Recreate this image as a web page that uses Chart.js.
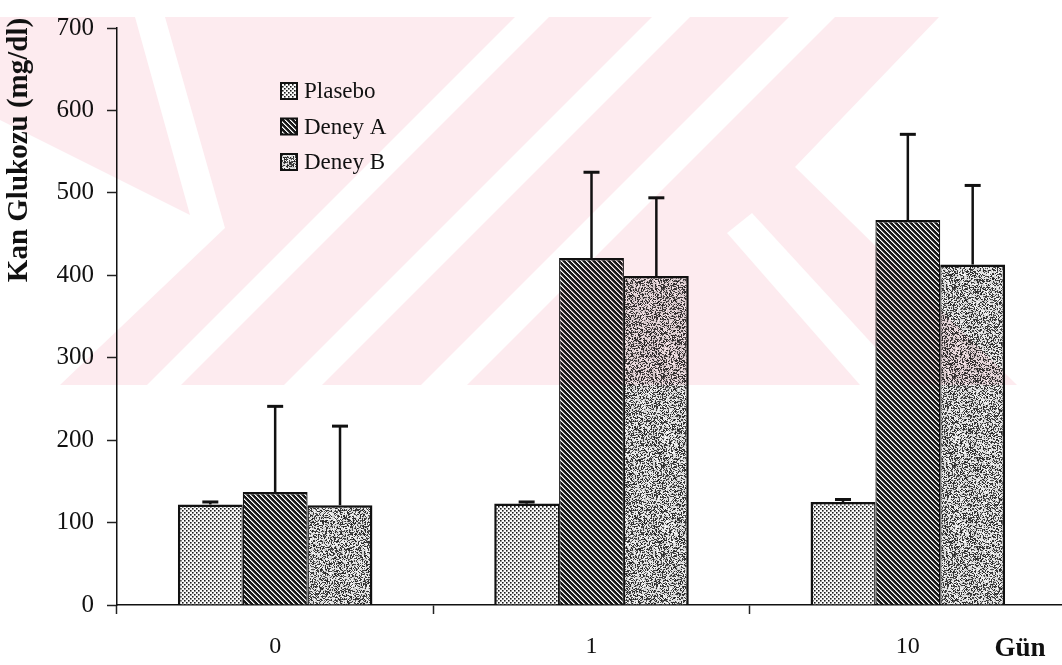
<!DOCTYPE html>
<html>
<head>
<meta charset="utf-8">
<script src="https://cdn.jsdelivr.net/npm/chart.js@4.4.1/dist/chart.umd.min.js"></script>
<style>
  html, body { margin: 0; padding: 0; background: #fff; overflow: hidden; width: 1062px; height: 665px; }
  canvas { display: block; }
</style>
</head>
<body>
<canvas id="c" width="1070" height="665"></canvas>
<script>
// Blood glucose by day and group (mean and SD)
const days = ['0', '1', '10'];
const seriesNames = ['Plasebo', 'Deney A', 'Deney B'];
const plasebo = [122, 123, 125];
const deneyA = [137, 421, 467];
const deneyB = [121, 399, 413];
const plaseboSd = [3, 2, 3];
const deneyASd = [104, 104, 104];
const deneyBSd = [96, 95, 96];
const yTicks = [0, 100, 200, 300, 400, 500, 600, 700];

const SERIF = '"Liberation Serif", "Times New Roman", serif';

// ---- fill textures ----
function makeTile(w, h, fn) {
  const c = document.createElement('canvas');
  c.width = w; c.height = h;
  const g = c.getContext('2d');
  const img = g.createImageData(w, h);
  for (let y = 0; y < h; y++) {
    for (let x = 0; x < w; x++) {
      const v = fn(x, y);
      const k = (y * w + x) * 4;
      img.data[k] = v; img.data[k + 1] = v; img.data[k + 2] = v; img.data[k + 3] = 255;
    }
  }
  g.putImageData(img, 0, 0);
  return c;
}
const ctx0 = document.getElementById('c').getContext('2d');

// dot screen
const dotTile = makeTile(4, 4, (x, y) => {
  const dx = x % 2, dy = y % 2;
  const onDot = (x < 2 && y < 2) || (x >= 2 && y >= 2);
  if (!onDot) return 250;
  if (dx === 0 && dy === 0) return 25;
  if (dx === 1 && dy === 1) return 175;
  return 120;
});
// dense back-slash hatching
const hatchTile = makeTile(5, 5, (x, y) => {
  const v = ((x - y) % 5 + 5) % 5;
  if (v === 0) return 255;
  if (v === 1) return 160;
  return 25;
});
// grainy grey stipple
function grain(x, y) {
  const s = Math.sin(x * 12.9898 + y * 78.233) * 43758.5453;
  return s - Math.floor(s);
}
const grainTile = makeTile(97, 89, (x, y) => {
  const r = grain(x, y);
  return r < 0.42 ? Math.round(30 + r * 150) : Math.round(195 + (r - 0.42) * 100);
});

const fillPlasebo = ctx0.createPattern(dotTile, 'repeat');
const fillA = ctx0.createPattern(hatchTile, 'repeat');
const fillB = ctx0.createPattern(grainTile, 'repeat');

// ---- pale stamp in the background ----
const watermarkColor = '#fdebef';
const watermarkBase = [[0, 17], [939, 17], [795, 167], [1017, 385], [0, 385]];
const watermarkGaps = [
  [[135, 17], [165, 17], [225, 228], [60, 385], [0, 385], [0, 120], [190, 215]],
  [[515, 17], [549, 17], [181, 385], [147, 385]],
  [[652, 17], [690, 17], [322, 385], [284, 385]],
  [[789, 17], [835, 17], [467, 385], [421, 385]],
  [[727, 233], [752, 213], [910, 385], [860, 385]]
];

const watermarkPlugin = {
  id: 'watermark',
  beforeDraw(chart) {
    const c = chart.ctx;
    c.save();
    c.fillStyle = '#fff';
    c.fillRect(0, 0, chart.width, chart.height);
    c.restore();
  },
  afterDraw(chart) {
    const off = document.createElement('canvas');
    off.width = chart.width; off.height = chart.height;
    const g = off.getContext('2d');
    g.fillStyle = '#fff';
    g.fillRect(0, 0, off.width, off.height);
    const poly = (pts, col) => {
      g.fillStyle = col;
      g.beginPath();
      pts.forEach((p, i) => i ? g.lineTo(p[0], p[1]) : g.moveTo(p[0], p[1]));
      g.closePath();
      g.fill();
    };
    poly(watermarkBase, watermarkColor);
    watermarkGaps.forEach(p => poly(p, '#fff'));
    const c = chart.ctx;
    c.save();
    c.globalCompositeOperation = 'multiply';
    c.drawImage(off, 0, 0);
    c.restore();
  }
};

// ---- error bars ----
const errorBarPlugin = {
  id: 'errorBars',
  afterDatasetsDraw(chart) {
    const c = chart.ctx;
    const ys = chart.scales.y;
    chart.data.datasets.forEach((ds, i) => {
      const meta = chart.getDatasetMeta(i);
      meta.data.forEach((bar, j) => {
        const v = ds.data[j], e = ds.sd[j];
        const y0 = ys.getPixelForValue(v);
        const y1 = ys.getPixelForValue(v + e);
        c.save();
        c.strokeStyle = '#111';
        c.lineWidth = 2.5;
        c.beginPath(); c.moveTo(bar.x, y0); c.lineTo(bar.x, y1); c.stroke();
        c.lineWidth = 3;
        c.beginPath(); c.moveTo(bar.x - 8, y1); c.lineTo(bar.x + 8, y1); c.stroke();
        c.restore();
      });
    });
  }
};

// ---- axis captions and key ----
const textPlugin = {
  id: 'captions',
  afterDraw(chart) {
    const c = chart.ctx;
    c.save();
    c.fillStyle = '#111';
    c.translate(20, 150);
    c.rotate(-Math.PI / 2);
    c.font = 'bold 29px ' + SERIF;
    c.textAlign = 'center';
    c.textBaseline = 'middle';
    c.fillText('Kan Glukozu (mg/dl)', 0, 0);
    c.restore();

    c.save();
    c.fillStyle = '#111';
    c.font = 'bold 27px ' + SERIF;
    c.textAlign = 'center';
    c.textBaseline = 'middle';
    c.fillText('Gün', 1020, 649);
    c.restore();

    // key
    c.save();
    c.font = '23px ' + SERIF;
    c.textBaseline = 'middle';
    chart.data.datasets.forEach((ds, i) => {
      const cy = 91 + i * 35.5;
      c.fillStyle = ds.backgroundColor;
      c.fillRect(281, cy - 8, 16, 16);
      c.strokeStyle = '#111';
      c.lineWidth = 2;
      c.strokeRect(281, cy - 8, 16, 16);
      c.fillStyle = '#111';
      c.fillText(ds.label, 304, cy + 1);
    });
    c.restore();
  }
};

new Chart(document.getElementById('c'), {
  type: 'bar',
  data: {
    labels: days,
    datasets: [
      { label: seriesNames[0], data: plasebo, sd: plaseboSd, backgroundColor: fillPlasebo,
        borderColor: '#111', borderWidth: { top: 2.5, left: 2.5, right: 1.25, bottom: 0 } },
      { label: seriesNames[1], data: deneyA, sd: deneyASd, backgroundColor: fillA,
        borderColor: '#111', borderWidth: { top: 2.5, left: 1.25, right: 1.25, bottom: 0 } },
      { label: seriesNames[2], data: deneyB, sd: deneyBSd, backgroundColor: fillB,
        borderColor: '#111', borderWidth: { top: 2.5, left: 1.25, right: 2.5, bottom: 0 } }
    ]
  },
  options: {
    responsive: false,
    animation: false,
    devicePixelRatio: 1,
    layout: { padding: { left: 0, top: 21, right: 4, bottom: 0 } },
    plugins: { legend: { display: false }, tooltip: { enabled: false } },
    datasets: { bar: { categoryPercentage: 0.615, barPercentage: 1.0 } },
    scales: {
      x: {
        afterFit(s) { s.height = 60; },
        grid: { offset: true, drawOnChartArea: false, drawTicks: true, tickLength: 9, tickColor: '#222', tickWidth: 1.5 },
        border: { display: true, color: '#111', width: 1.5 },
        ticks: { color: '#111', font: { family: SERIF, size: 24 }, padding: 18 }
      },
      y: {
        min: 0, max: 700,
        afterFit(s) { s.width = 117; },
        afterBuildTicks(s) { s.ticks = yTicks.map(v => ({ value: v })); },
        grid: { drawOnChartArea: false, drawTicks: true, tickLength: 10, tickColor: '#222', tickWidth: 1.5 },
        border: { display: true, color: '#111', width: 1.5 },
        ticks: { color: '#111', font: { family: SERIF, size: 25 }, padding: 13 }
      }
    }
  },
  plugins: [watermarkPlugin, errorBarPlugin, textPlugin]
});
</script>
</body>
</html>
